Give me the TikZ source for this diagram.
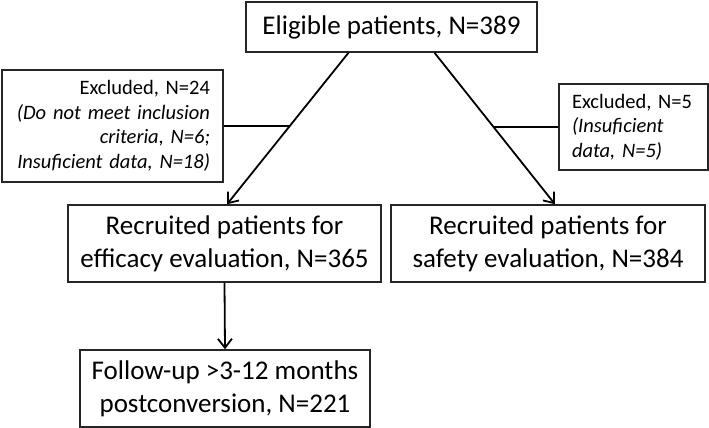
\documentclass[tikz,border=0pt]{standalone}
\usepackage{fontspec}
\setmainfont{Carlito}
\usetikzlibrary{arrows.meta}
\begin{document}
\begin{tikzpicture}[x=1pt,y=-1pt,
  box/.style={draw=black!85,line width=1.5pt,rectangle,inner sep=0pt,align=center,
    font=\fontsize{27}{33}\selectfont},
  exbox/.style={draw=black!85,line width=1.5pt,rectangle,inner ysep=0pt,inner xsep=13pt,
    font=\fontsize{20.5}{24.5}\selectfont},
  arr/.style={line width=1.8pt,-{Straight Barb[length=9pt,width=14pt,line width=1.8pt]}},
  ln/.style={line width=1.8pt}]
\useasboundingbox (0,0) rectangle (709,428);
\node[box,minimum width=291pt,minimum height=50pt] (top) at (391.5,27) {Eligible patients, N=389};
\node[exbox,minimum width=221pt,minimum height=112pt,text width=195pt,align=right] (exl) at (112.5,126)
  {Excluded, N=24\\ \itshape (Do not meet inclusion\\ \itshape criteria, N=6;\\ \itshape Insuficient data, N=18)};
\node[exbox,minimum width=149pt,minimum height=86pt,text width=123pt,align=left] (exr) at (633.5,127)
  {Excluded, N=5\\ \itshape (Insuficient\\ \itshape data, N=5)};
\node[box,minimum width=313pt,minimum height=77pt] (eff) at (224.5,243.5)
  {Recruited patients for\\ efficacy evaluation, N=365};
\node[box,minimum width=314pt,minimum height=77pt] (saf) at (548,243.5)
  {Recruited patients for\\ safety evaluation, N=384};
\node[box,minimum width=290pt,minimum height=77pt] (fol) at (225,388.5)
  {Follow-up >3-12 months\\ postconversion, N=221};
\draw[arr] ([xshift=-43pt]top.south) -- coordinate[pos=0.49] (ml) ([xshift=2.5pt]eff.north);
\draw[arr] ([xshift=43pt]top.south) -- coordinate[pos=0.49] (mr) ([xshift=7pt]saf.north);
\draw[ln] (exl.east) -- (exl.east -| ml);
\draw[ln] (exr.west) -- (exr.west -| mr);
\draw[arr] (eff.south) -- (fol.north);
\end{tikzpicture}
\end{document}
